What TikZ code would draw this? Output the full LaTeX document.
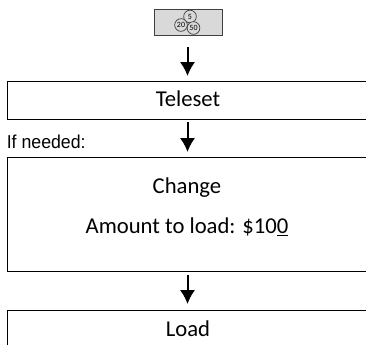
\documentclass[tikz,border=0pt]{standalone}
\usepackage{fontspec}
\setmainfont{Carlito}
\newfontfamily\narrowfont[FakeStretch=0.95]{Liberation Sans}
\usetikzlibrary{arrows.meta}
\definecolor{mycoincolor}{HTML}{D9D9D9}
\definecolor{myedgecolor}{HTML}{404040}
\tikzset{
  x=0.75pt, y=-0.75pt,
  mybox/.style={draw, line width=0.95pt, rectangle, anchor=north west, inner sep=0pt},
  mycoin/.style={draw=myedgecolor, fill=mycoincolor, circle, line width=0.55pt, inner sep=0pt, minimum size=9.5pt},
  myarrow/.style={-{Latex[length=10.5pt,width=11.5pt]}, line width=1.5pt}
}
\begin{document}
\begin{tikzpicture}
\useasboundingbox (0,0) rectangle (366,344);
\node[mybox, draw=myedgecolor, fill=mycoincolor, minimum width=51pt, minimum height=19.5pt] (coinbox) at (154,9) {};
\node[mycoin] (coin5) at (190,16.5) {\fontsize{6pt}{6pt}\selectfont 5};
\node[mycoin] (coin20) at (181,25) {\fontsize{6pt}{6pt}\selectfont 20};
\node[mycoin] (coin50) at (193.5,28) {\fontsize{6pt}{6pt}\selectfont 50};
\node[mybox, minimum width=290pt, minimum height=28.5pt] (teleset) at (6.5,80.5) {};
\node (telesettext) at (188,99) {\fontsize{17pt}{17pt}\selectfont Teleset};
\node[mybox, minimum width=290pt, minimum height=85.5pt] (change) at (6.5,156.5) {};
\node (changetitle) at (187,188) {\fontsize{17pt}{17pt}\selectfont Change};
\node (amount) at (187,227) {\fontsize{17pt}{17pt}\selectfont Amount to load: \$10\underline{0}};
\node[mybox, minimum width=290pt, minimum height=40pt] (load) at (6.5,309.5) {};
\node (loadtext) at (188,329) {\fontsize{17pt}{17pt}\selectfont Load};
\node[anchor=west, inner sep=0pt] (ifneeded) at (6.5,142) {\narrowfont\fontsize{14pt}{14pt}\selectfont If needed:};
\coordinate (a1) at (187.5,47);
\coordinate (b1) at (187.5,76);
\coordinate (a2) at (187.5,122);
\coordinate (b2) at (187.5,152);
\coordinate (a3) at (187.5,275);
\coordinate (b3) at (187.5,304);
\draw[myarrow] (a1) -- (b1);
\draw[myarrow] (a2) -- (b2);
\draw[myarrow] (a3) -- (b3);
\end{tikzpicture}
\end{document}
